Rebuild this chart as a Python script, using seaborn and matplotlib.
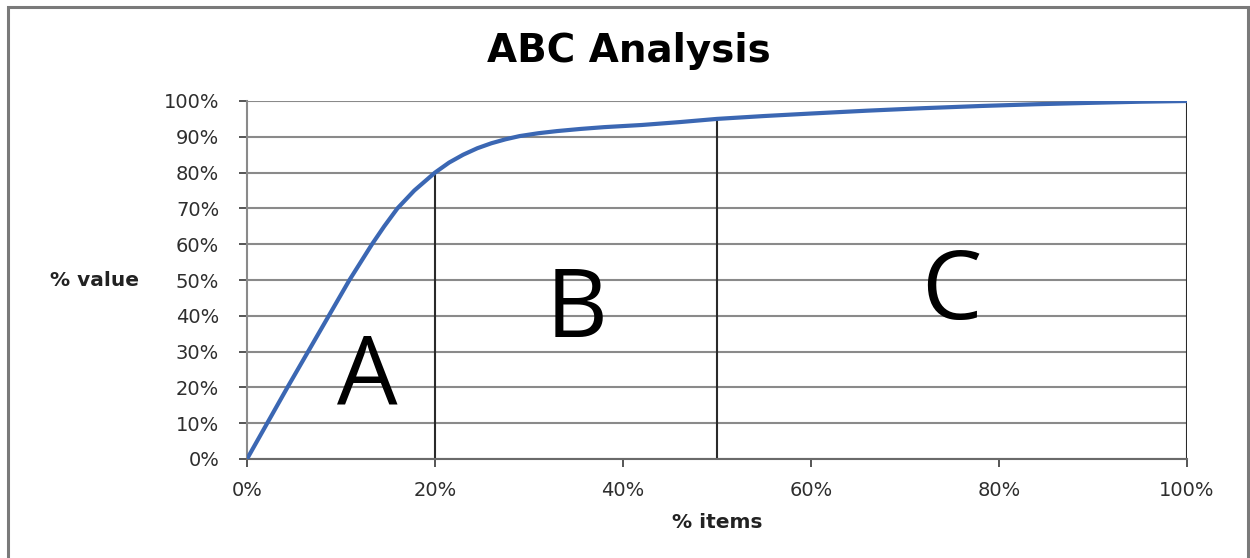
import matplotlib
matplotlib.use("Agg")
import matplotlib.pyplot as plt
import matplotlib.patches as mpatches
from matplotlib.ticker import FuncFormatter
import seaborn as sns
import pandas as pd

# Cumulative share of value vs cumulative share of items
items_pct = [0, 2.15, 4.3, 6.5, 8.7, 10.9, 13.3, 14.6, 16.0, 17.8, 20,
             21.5, 23, 24.5, 26, 27.5, 29, 31, 33, 35.5, 38, 42, 46, 50,
             55, 60, 66, 72, 78, 84, 90, 95, 100]
value_pct = [0, 10, 20, 30, 40, 50, 60, 65, 70, 75, 80,
             82.8, 85.0, 86.8, 88.2, 89.3, 90.2, 91.0, 91.6, 92.2, 92.7, 93.3, 94.1, 95.0,
             95.8, 96.5, 97.3, 98.0, 98.6, 99.1, 99.5, 99.8, 100]

# Class boundaries (items %) and the cumulative value reached there
boundaries = [20, 50, 100]
boundary_values = [80, 95, 100]

# Class labels and their positions (items %, value %)
class_labels = ["A", "B", "C"]
label_x = [12.8, 35.1, 74.9]
label_y = [22.0, 41.0, 46.0]

x_ticks = [0, 20, 40, 60, 80, 100]
y_ticks = list(range(0, 101, 10))

df = pd.DataFrame({"items": items_pct, "value": value_pct})

sns.set_theme(style="white")
plt.rcParams["font.family"] = ["DejaVu Sans"]

fig = plt.figure(figsize=(12.5, 5.58), dpi=100)
ax = fig.add_axes([247 / 1250, 1 - 459 / 558, (1187 - 247) / 1250, (459 - 101) / 558])

grid_c = "#8a8a8a"
for yv in y_ticks:
    ax.axhline(yv, color=grid_c, lw=1.5, zorder=1)

# Class boundary lines, from the axis up to the curve
for bx, bv in zip(boundaries, boundary_values):
    ax.plot([bx, bx], [0, bv], color="#2a2a2a", lw=1.5, zorder=2)

sns.lineplot(data=df, x="items", y="value", ax=ax, color="#3b67b3",
             lw=3.0, zorder=3, sort=True)

for lab, lx, ly in zip(class_labels, label_x, label_y):
    ax.text(lx, ly, lab, fontsize=69, family="Open Sans", color="black",
            ha="center", va="center", zorder=4)

ax.set_xlim(0, 100)
ax.set_ylim(0, 100)
ax.set_xticks(x_ticks)
ax.set_yticks(y_ticks)
pct = FuncFormatter(lambda v, _: f"{v:.0f}%")
ax.xaxis.set_major_formatter(pct)
ax.yaxis.set_major_formatter(pct)
ax.tick_params(axis="both", which="major", labelsize=14, colors="#555555",
               labelcolor="#2e2e2e", length=6, width=1.4, direction="out")
ax.tick_params(axis="x", pad=10, bottom=True)
ax.tick_params(axis="y", pad=14, left=True)
for side in ["top", "right"]:
    ax.spines[side].set_visible(False)
ax.spines["left"].set_color(grid_c)
ax.spines["left"].set_linewidth(1.5)
ax.spines["bottom"].set_color("#6a6a6a")
ax.spines["bottom"].set_linewidth(1.5)
ax.set_xlabel("")
ax.set_ylabel("")

fig.text(629 / 1250, 1 - 51 / 558, "ABC Analysis", fontsize=28, fontweight="bold",
         ha="center", va="center", color="black")
fig.text(95 / 1250, 1 - 281 / 558, "% value", fontsize=14.5, fontweight="bold",
         ha="center", va="center", color="#222222")
fig.text(717 / 1250, 1 - 523 / 558, "% items", fontsize=14.5, fontweight="bold",
         ha="center", va="center", color="#222222")

# Chart frame
fig.patches.append(mpatches.Rectangle((8 / 1250, -0.05), 1240 / 1250, 1.05 - 7 / 558,
                                      transform=fig.transFigure, fill=False,
                                      edgecolor="#7a7a7a", lw=2.2))

fig.savefig("out.png", dpi=100)
